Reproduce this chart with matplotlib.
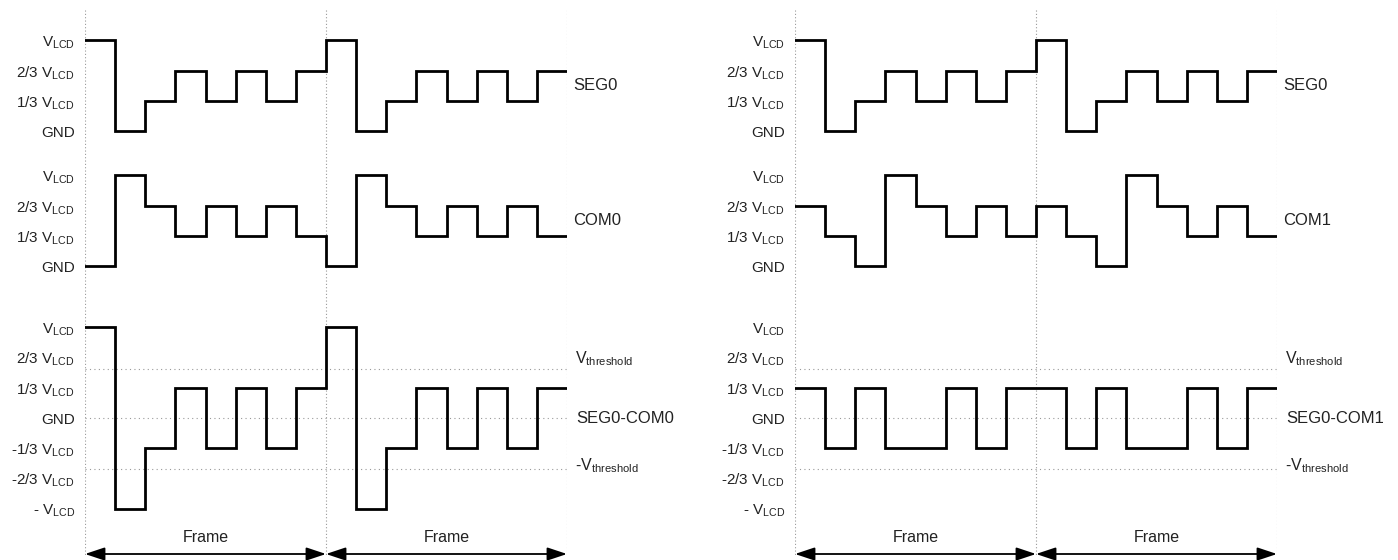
import numpy as np
import matplotlib
matplotlib.use("Agg")
import matplotlib.pyplot as plt

plt.rcParams["font.family"] = ["Liberation Sans", "DejaVu Sans"]
plt.rcParams["mathtext.fontset"] = "custom"
plt.rcParams["mathtext.rm"] = "Liberation Sans"
plt.rcParams["mathtext.it"] = "Liberation Sans"

# waveform levels in units of 1/3 VLCD, 8 time slots per frame, 2 frames
seg0 = [3, 0, 1, 2, 1, 2, 1, 2, 3, 0, 1, 2, 1, 2, 1, 2]
com0 = [0, 3, 2, 1, 2, 1, 2, 1, 0, 3, 2, 1, 2, 1, 2, 1]
com1 = [2, 1, 0, 3, 2, 1, 2, 1, 2, 1, 0, 3, 2, 1, 2, 1]

v_threshold = 1.62
neg_threshold = -1.68

level_labels = ["GND", "1/3 V$_{\\mathrm{LCD}}$", "2/3 V$_{\\mathrm{LCD}}$", "V$_{\\mathrm{LCD}}$"]
diff_labels = {3: "V$_{\\mathrm{LCD}}$", 2: "2/3 V$_{\\mathrm{LCD}}$", 1: "1/3 V$_{\\mathrm{LCD}}$",
               0: "GND", -1: "-1/3 V$_{\\mathrm{LCD}}$", -2: "-2/3 V$_{\\mathrm{LCD}}$",
               -3: "- V$_{\\mathrm{LCD}}$"}
frame_label = "Frame"

W, H = 1398, 560
fig = plt.figure(figsize=(W / 100, H / 100), dpi=100)

px = 30.2  # pixels per 1/3 VLCD
seg_base = 0.0
com_base = -(266 - 131) / px
diff_base = -(418 - 131) / px
y_top = 131 / px
y_bot = -(H - 131) / px

text_col = "#222222"
grid_col = "#999999"
fs_left = 11
fs_right = 12


def draw_panel(left_px, com, com_name):
    ax = fig.add_axes([left_px / W, 0, 482 / W, 1])
    ax.set_xlim(0, 16)
    ax.set_ylim(y_bot, y_top)
    ax.axis("off")

    diff = [s - c for s, c in zip(seg0, com)]
    x = np.arange(17)

    # grid lines
    for xv in (0, 8, 16):
        ax.plot([xv, xv], [4.0, -(556 - 131) / px], color=grid_col, lw=0.8,
                ls=(0, (1, 2)), zorder=1)
    for yv in (v_threshold, 0, neg_threshold):
        ax.plot([0, 16], [diff_base + yv] * 2, color=grid_col, lw=0.8,
                ls=(0, (1, 3)), zorder=1)

    for vals, base in ((seg0, seg_base), (com, com_base), (diff, diff_base)):
        y = np.array(vals + [vals[-1]]) + base
        ax.plot(x, y, drawstyle="steps-post", color="black", lw=2.0,
                solid_joinstyle="miter", zorder=3)

    # left labels
    for base in (seg_base, com_base):
        for lv, lab in enumerate(level_labels):
            ax.annotate(lab, xy=(0, base + lv), xytext=(-10, 0), textcoords="offset pixels",
                        ha="right", va="center_baseline", fontsize=fs_left, color=text_col)
    for lv, lab in diff_labels.items():
        ax.annotate(lab, xy=(0, diff_base + lv), xytext=(-10, 0), textcoords="offset pixels",
                    ha="right", va="center_baseline", fontsize=fs_left, color=text_col)

    # right labels
    ax.annotate("SEG0", xy=(16, seg_base + 1.5), xytext=(6, 0), textcoords="offset pixels",
                ha="left", va="center", fontsize=fs_right, color=text_col)
    ax.annotate(com_name, xy=(16, com_base + 1.5), xytext=(6, 0), textcoords="offset pixels",
                ha="left", va="center", fontsize=fs_right, color=text_col)
    ax.annotate("SEG0-" + com_name, xy=(16, diff_base), xytext=(9, 0), textcoords="offset pixels",
                ha="left", va="center", fontsize=fs_right, color=text_col)
    ax.annotate("V$_{\\mathrm{threshold}}$", xy=(16, diff_base + 1.82), xytext=(8, 0),
                textcoords="offset pixels", ha="left", va="baseline", fontsize=11.5, color=text_col)
    ax.annotate("-V$_{\\mathrm{threshold}}$", xy=(16, diff_base - 1.72), xytext=(8, 0),
                textcoords="offset pixels", ha="left", va="baseline", fontsize=11.5, color=text_col)

    # frame arrows
    ya = diff_base - (554 - 418) / px
    yt = diff_base - (538 - 418) / px
    for x0 in (0, 8):
        ax.annotate("", xy=(x0, ya), xytext=(x0 + 8, ya),
                    arrowprops=dict(arrowstyle="<|-|>,head_length=12,head_width=4",
                                    mutation_scale=1, color="black", lw=1.3,
                                    shrinkA=0, shrinkB=0),
                    annotation_clip=False)
        ax.text(x0 + 4, yt, frame_label, ha="center", va="center", fontsize=11.5, color=text_col)


draw_panel(85, com0, "COM0")
draw_panel(795, com1, "COM1")

fig.savefig("out.png", dpi=100)
